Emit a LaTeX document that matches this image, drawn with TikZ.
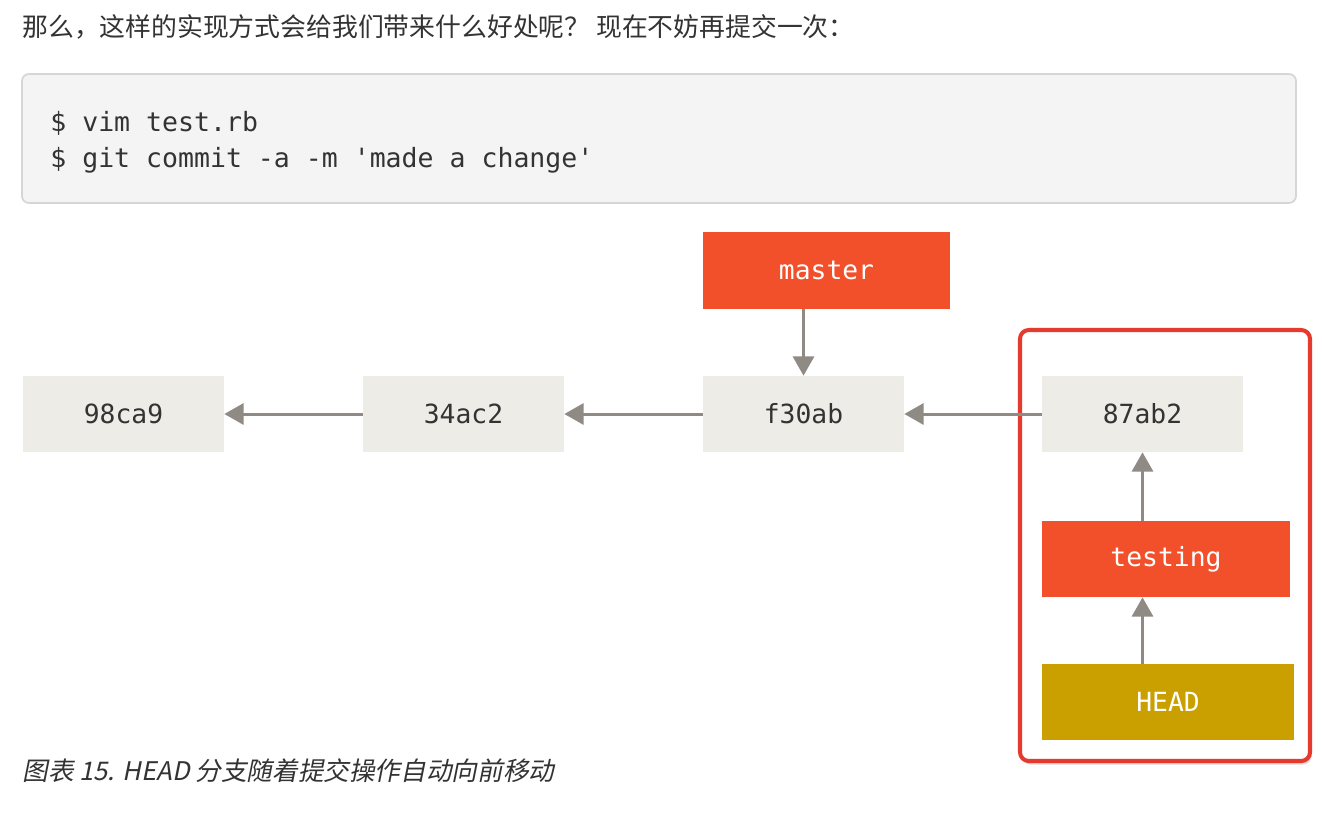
\documentclass[tikz,border=0pt]{standalone}
\usepackage{fontspec}
\usetikzlibrary{arrows.meta,shadows}
\setmonofont{DejaVu Sans Mono}
\newfontfamily\cjk{Noto Sans CJK SC}
\newfontfamily\cjkit{Noto Sans CJK SC}[FakeSlant=0.2]
\definecolor{commitfill}{HTML}{EDECE6}
\definecolor{branchfill}{HTML}{F24F2B}
\definecolor{headfill}{HTML}{CA9F00}
\definecolor{arrowgray}{HTML}{8F8A84}
\definecolor{markred}{HTML}{E53B2F}
\definecolor{codefill}{HTML}{F4F4F4}
\definecolor{codeline}{HTML}{D6D6D6}
\definecolor{inkgray}{HTML}{333333}
\begin{document}
\begin{tikzpicture}[x=0.02cm,y=-0.02cm]
\tikzstyle{every node}+=[inner sep=0pt]
\tikzstyle{commit}=[fill=commitfill,text=inkgray,minimum width=4.02cm,minimum height=1.52cm,font=\ttfamily\fontsize{15pt}{18pt}\selectfont]
\tikzstyle{branch}=[commit,fill=branchfill,text=white]
\tikzstyle{arr}=[arrowgray,line width=1.7pt,-{Triangle[length=11pt,width=12pt]}]
\useasboundingbox (0,0) rectangle (1322,812);
\fill[white] (0,0) rectangle (1322,812);
% text above the code
\node[anchor=base west,text=inkgray,font=\cjk\fontsize{14.7pt}{18pt}\selectfont] (intro) at (22,36) {那么，这样的实现方式会给我们带来什么好处呢？ 现在不妨再提交一次：};
% code block
\draw[codeline,fill=codefill,rounded corners=4pt,line width=1pt] (22,74) rectangle (1296,203);
\node[anchor=base west,text=inkgray,font=\ttfamily\fontsize{15.1pt}{18pt}\selectfont] (cmd1) at (50,131) {\$ vim test.rb};
\node[anchor=base west,text=inkgray,font=\ttfamily\fontsize{15.1pt}{18pt}\selectfont] (cmd2) at (50,167) {\$ git commit -a -m 'made a change'};
% red mark round the new commit
\draw[markred,fill=white,line width=2.3pt,rounded corners=5pt,drop shadow={opacity=0.3,shadow xshift=1pt,shadow yshift=-2pt}] (1020,330) rectangle (1310,761);
% commits
\node[commit] (c1) at (123.5,414) {98ca9};
\node[commit] (c2) at (463.5,414) {34ac2};
\node[commit] (c3) at (803.5,414) {f30ab};
\node[commit] (c4) at (1142.5,414) {87ab2};
% branches
\node[branch,minimum width=4.94cm,minimum height=1.54cm] (master) at (826.5,270.5) {master};
\node[branch,minimum width=4.96cm] (testing) at (1166,559) {testing};
\node[branch,fill=headfill,minimum width=5.04cm] (head) at (1168,702) {HEAD};
% parent links
\draw[arr] (c2) -- (c1);
\draw[arr] (c3) -- (c2);
\draw[arr] (c4) -- (c3);
% pointers
\draw[arr] (c3 |- master.south) -- (c3.north);
\draw[arr] (c4 |- testing.north) -- (c4.south);
\draw[arr] (c4 |- head.north) -- (c4 |- testing.south);
% caption
\node[anchor=base west,text=inkgray,font=\cjkit\fontsize{14.6pt}{18pt}\selectfont] (caption) at (22,780) {图表 15. HEAD 分支随着提交操作自动向前移动};
\end{tikzpicture}
\end{document}
